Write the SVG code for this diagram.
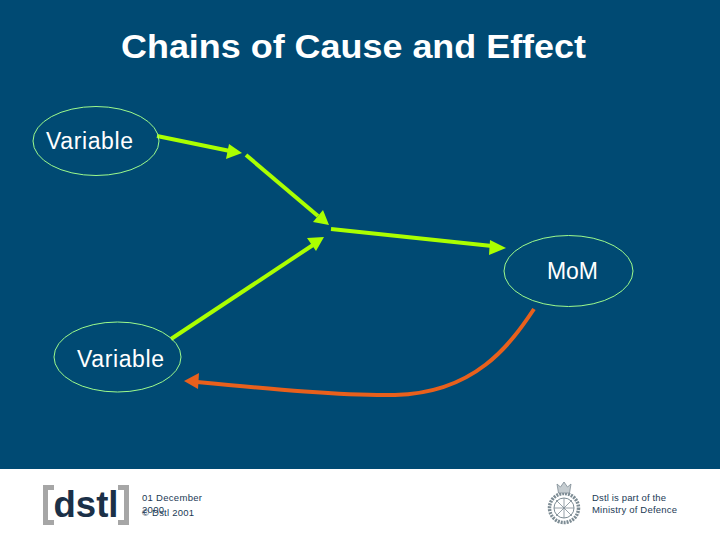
<svg xmlns="http://www.w3.org/2000/svg" width="720" height="540" viewBox="0 0 720 540">
<style>
text{font-family:"Liberation Sans",Arial,sans-serif}
.n{fill:none;stroke:#9dfb8c;stroke-width:1}
.l{fill:#fff;font-size:23px}
.g{fill:none;stroke:#aaff00;stroke-width:4}
.h{fill:#aaff00}
.f{fill:#1b3a55;font-size:9.500px}
</style>
<rect width="720" height="540" fill="#004a73"/>
<rect y="469" width="720" height="71" fill="#fff"/>
<text x="121" y="58" fill="#fff" font-size="33" font-weight="bold" textLength="465" lengthAdjust="spacingAndGlyphs">Chains of Cause and Effect</text>
<g id="connectors">
<path class="g" d="M157 136L230 151"/>
<path class="h" d="M242 153L229 144 226 159Z"/>
<path class="g" d="M246 155L318 216"/>
<path class="h" d="M329 225L323 210 313 222Z"/>
<path class="g" d="M331 229L492 246"/>
<path class="h" d="M506 248L490 240 489 255Z"/>
<path class="g" d="M171 339L313 245"/>
<path class="h" d="M324 237L307 238 316 251Z"/>
<path d="M534 309C510 345 475 393 395 395C345 396 270 389 197 382" fill="none" stroke="#e8601c" stroke-width="4"/>
<path d="M184 381L199 373 198 389Z" fill="#e8601c"/>
</g>
<g id="n1"><ellipse class="n" cx="96" cy="141" rx="63" ry="34.500"/><text class="l" x="46" y="149" textLength="87">Variable</text></g>
<g id="n2"><ellipse class="n" cx="568.500" cy="271" rx="64.500" ry="35.500"/><text class="l" x="547" y="279" textLength="51">MoM</text></g>
<g id="n3"><ellipse class="n" cx="117.500" cy="357" rx="63.500" ry="35"/><text class="l" x="77" y="367" textLength="87">Variable</text></g>
<g id="footer">
<path d="M54 487.500H45.500V522.500H54M118 487.500H126.500V522.500H118" fill="none" stroke="#a6a6a6" stroke-width="5"/>
<text x="86" y="517" text-anchor="middle" fill="#1b3048" font-size="37" font-weight="bold" font-family="Open Sans" textLength="65" lengthAdjust="spacingAndGlyphs">dstl</text>
<text class="f" x="142" y="501" textLength="60">01 December</text>
<text class="f" x="142" y="513" textLength="22">2000</text>
<text class="f" x="142" y="516" textLength="52">© Dstl 2001</text>
<g fill="none" stroke="#7d8c94">
<circle cx="564" cy="508" r="14.500" stroke-width="3.500" stroke-dasharray="2 1"/>
<circle cx="564" cy="508" r="10" stroke-width="1"/>
<path d="M556 500L572 516M572 500L556 516M564 498V518M554 508H574" stroke-width=".8"/>
<path d="M557 484L560.500 487 564 482 567.500 487 571 484 569.500 493H558.500Z" fill="#c5ccd0" stroke-width=".8"/>
</g>
<text class="f" x="592" y="501" textLength="74">Dstl is part of the</text>
<text class="f" x="592" y="513" textLength="85">Ministry of Defence</text>
</g>
</svg>
